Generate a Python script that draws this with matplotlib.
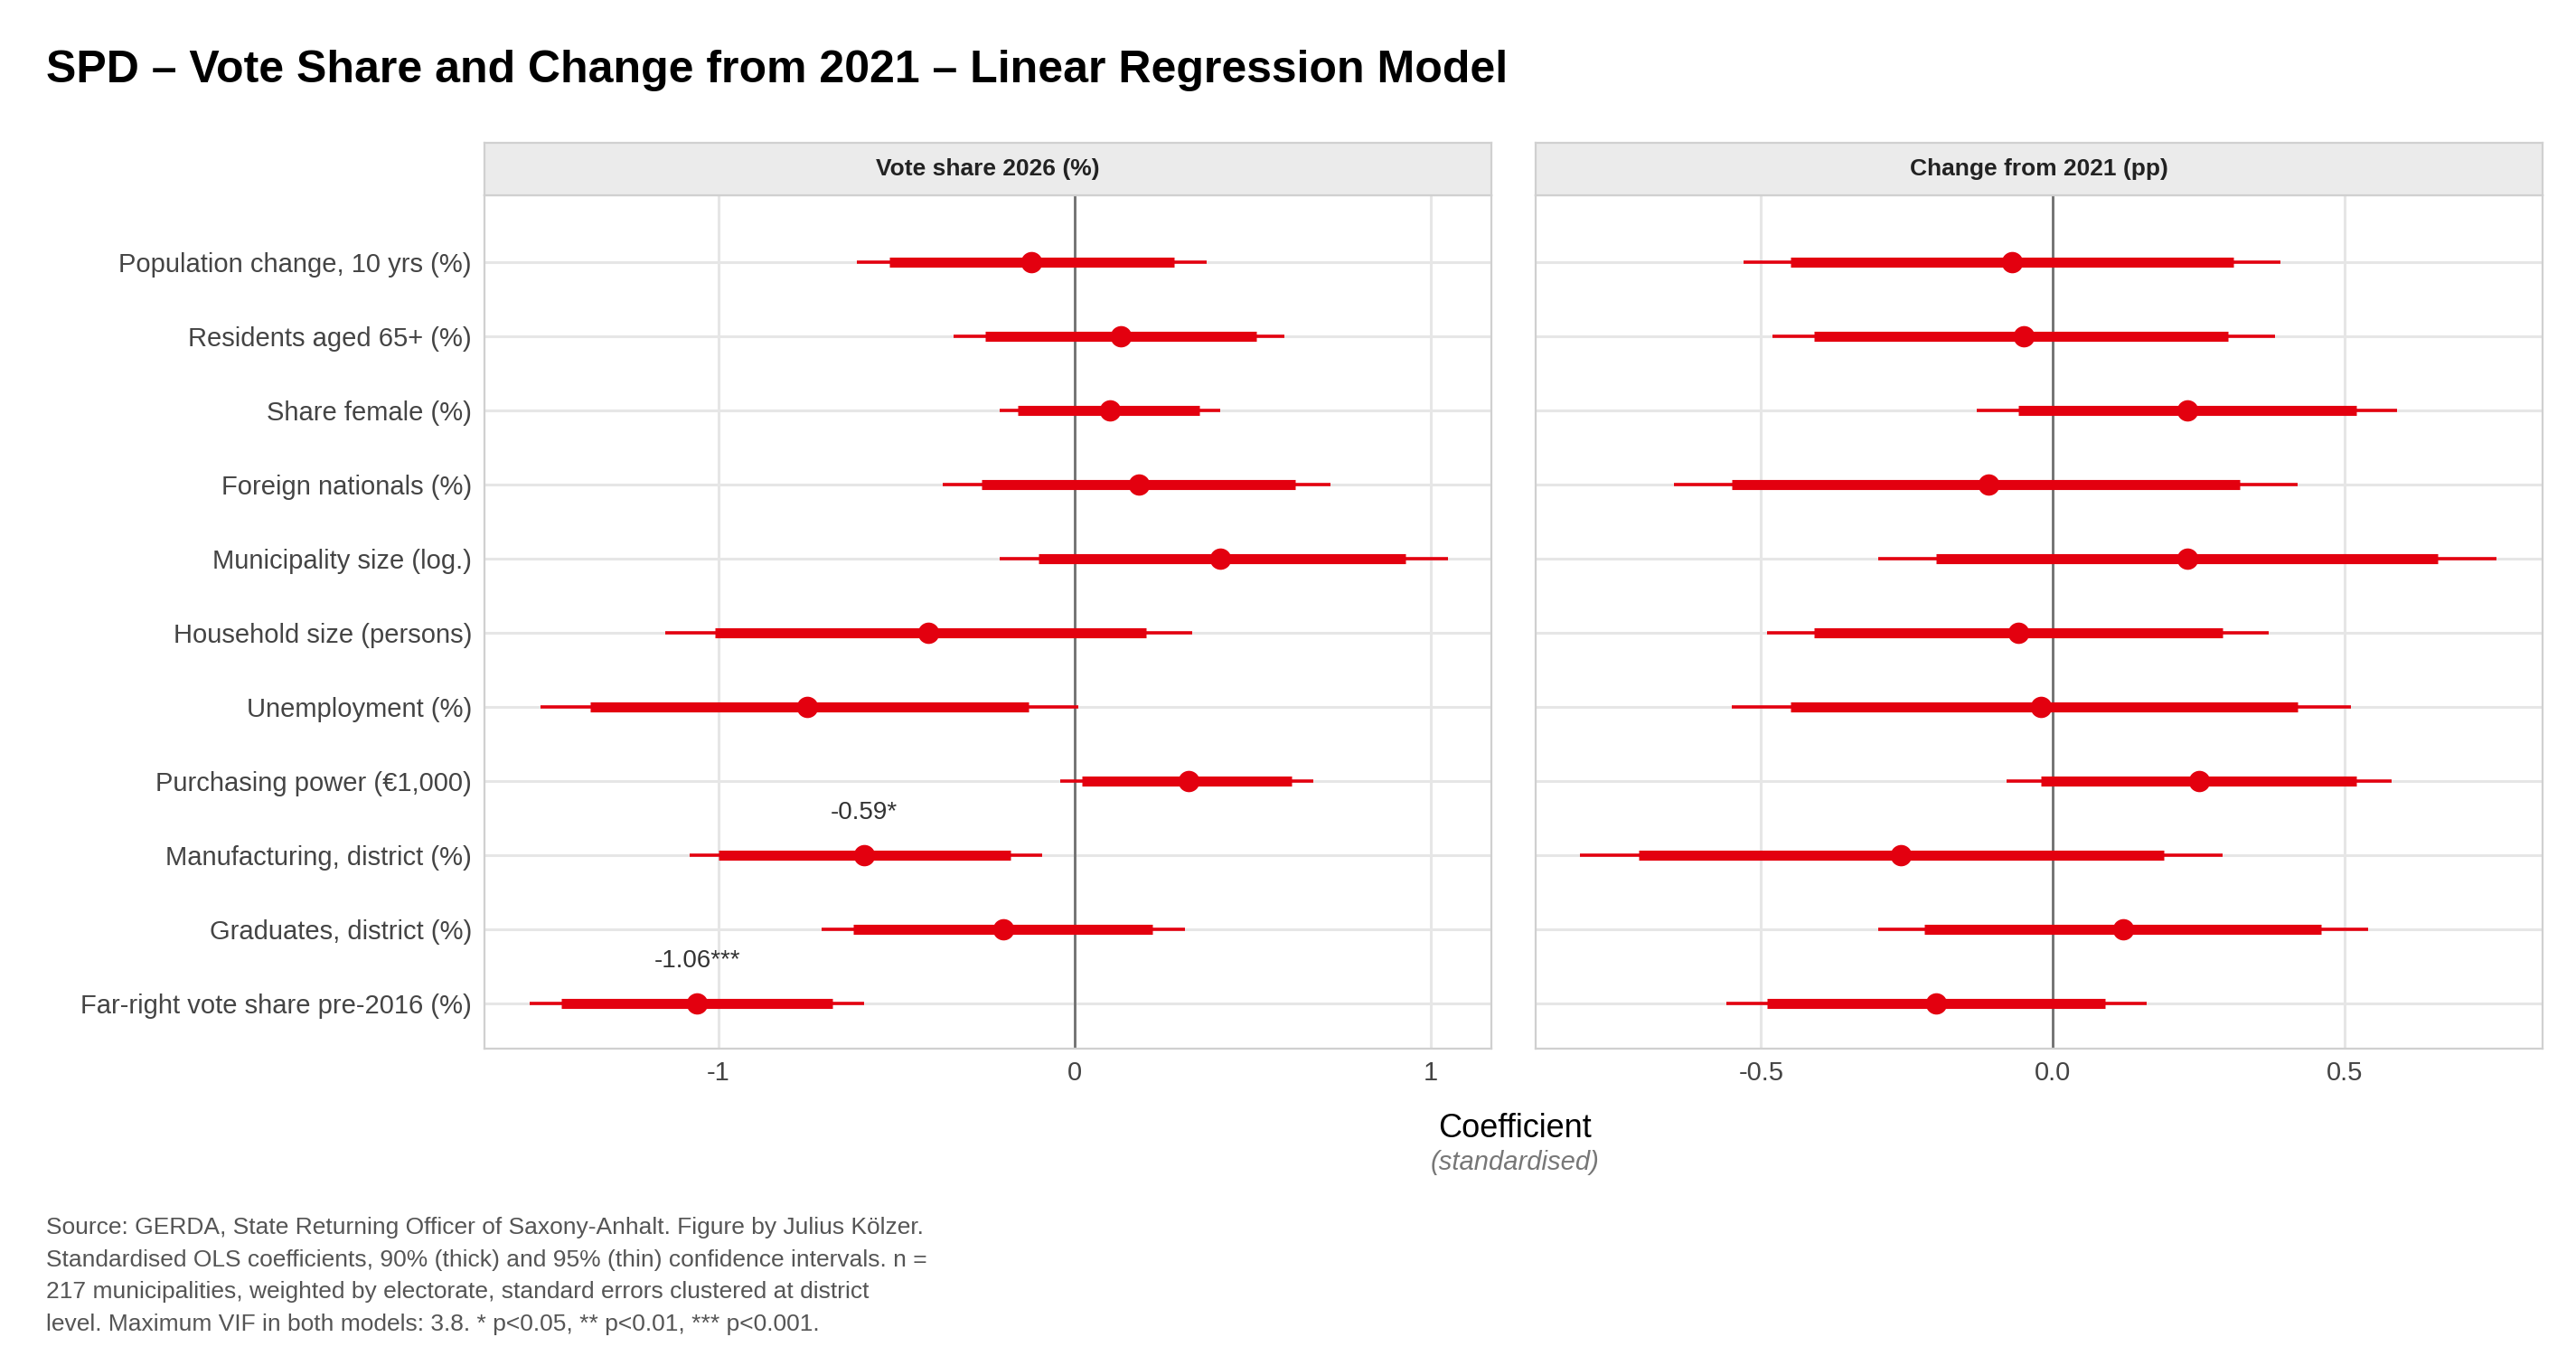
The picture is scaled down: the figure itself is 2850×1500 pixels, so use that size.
import numpy as np
import matplotlib.pyplot as plt

plt.rcParams['font.family'] = ['Liberation Sans', 'DejaVu Sans']

labels = ["Population change, 10 yrs (%)", "Residents aged 65+ (%)", "Share female (%)",
          "Foreign nationals (%)", "Municipality size (log.)", "Household size (persons)",
          "Unemployment (%)", "Purchasing power (€1,000)", "Manufacturing, district (%)",
          "Graduates, district (%)", "Far-right vote share pre-2016 (%)"]

# vote share 2026
vs_est = [-0.12, 0.13, 0.10, 0.18, 0.41, -0.41, -0.75, 0.32, -0.59, -0.20, -1.06]
vs_lo90 = [-0.52, -0.25, -0.16, -0.26, -0.10, -1.01, -1.36, 0.02, -1.00, -0.62, -1.44]
vs_hi90 = [0.28, 0.51, 0.35, 0.62, 0.93, 0.20, -0.13, 0.61, -0.18, 0.22, -0.68]
vs_lo95 = [-0.61, -0.34, -0.21, -0.37, -0.21, -1.15, -1.50, -0.04, -1.08, -0.71, -1.53]
vs_hi95 = [0.37, 0.59, 0.41, 0.72, 1.05, 0.33, 0.01, 0.67, -0.09, 0.31, -0.59]
vs_sig = {8: "-0.59*", 10: "-1.06***"}

# change from 2021
ch_est = [-0.07, -0.05, 0.23, -0.11, 0.23, -0.06, -0.02, 0.25, -0.26, 0.12, -0.20]
ch_lo90 = [-0.45, -0.41, -0.06, -0.55, -0.20, -0.41, -0.45, -0.02, -0.71, -0.22, -0.49]
ch_hi90 = [0.31, 0.30, 0.52, 0.32, 0.66, 0.29, 0.42, 0.52, 0.19, 0.46, 0.09]
ch_lo95 = [-0.53, -0.48, -0.13, -0.65, -0.30, -0.49, -0.55, -0.08, -0.81, -0.30, -0.56]
ch_hi95 = [0.39, 0.38, 0.59, 0.42, 0.76, 0.37, 0.51, 0.58, 0.29, 0.54, 0.16]

red = "#E3000F"
fig = plt.figure(figsize=(14.25, 7.5), dpi=200)
fig.text(0.018, 0.948, "SPD – Vote Share and Change from 2021 – Linear Regression Model",
         fontsize=18, fontweight="bold", va="center")

panels = [
    (0.188, "Vote share 2026 (%)", vs_est, vs_lo90, vs_hi90, vs_lo95, vs_hi95, vs_sig,
     (-1.657, 1.171), [-1, 0, 1], ["-1", "0", "1"]),
    (0.596, "Change from 2021 (pp)", ch_est, ch_lo90, ch_hi90, ch_lo95, ch_hi95, {},
     (-0.887, 0.839), [-0.5, 0, 0.5], ["-0.5", "0.0", "0.5"]),
]
y = np.arange(len(labels))
for i, (x0, title, est, lo90, hi90, lo95, hi95, sig, xl, xt, xtl) in enumerate(panels):
    ax = fig.add_axes([x0, 0.227, 0.391, 0.629])
    ax.set_xlim(*xl)
    ax.set_ylim(10.6, -0.9)
    for xv in xt:
        ax.axvline(xv, color="#e6e6e6", lw=1.1, zorder=0)
    for yv in y:
        ax.axhline(yv, color="#e6e6e6", lw=1.1, zorder=0)
    ax.axvline(0, color="#707070", lw=1.0, zorder=1)
    ax.hlines(y, lo95, hi95, color=red, lw=1.3, zorder=2)
    ax.hlines(y, lo90, hi90, color=red, lw=4, zorder=3)
    ax.plot(est, y, "o", color=red, ms=7.5, zorder=4)
    for k, s in sig.items():
        ax.text(est[k], k - 0.42, s, ha="center", va="bottom", fontsize=10, color="#333333")
    ax.set_xticks(xt)
    ax.set_xticklabels(xtl)
    ax.set_yticks(y)
    ax.set_yticklabels(labels if i == 0 else [])
    ax.tick_params(length=0, labelsize=10.5, colors="#444444", pad=5)
    for sp in ax.spines.values():
        sp.set_color("#d0d0d0")
    # strip
    sax = fig.add_axes([x0, 0.856, 0.391, 0.039])
    sax.set_xticks([]); sax.set_yticks([])
    sax.set_facecolor("#ebebeb")
    for sp in sax.spines.values():
        sp.set_color("#d0d0d0")
    sax.text(0.5, 0.5, title, ha="center", va="center", fontsize=9.5, fontweight="bold",
             color="#222222", transform=sax.transAxes)

fig.text(0.588, 0.168, "Coefficient", ha="center", va="center", fontsize=13)
fig.text(0.588, 0.143, "(standardised)", ha="center", va="center", fontsize=10.5,
         style="italic", color="#777777")
fig.text(0.018, 0.059, "Source: GERDA, State Returning Officer of Saxony-Anhalt. Figure by Julius Kölzer.\n"
         "Standardised OLS coefficients, 90% (thick) and 95% (thin) confidence intervals. n =\n"
         "217 municipalities, weighted by electorate, standard errors clustered at district\n"
         "level. Maximum VIF in both models: 3.8. * p<0.05, ** p<0.01, *** p<0.001.",
         fontsize=9.5, color="#555555", va="center", linespacing=1.6)
fig.savefig("out.png")
